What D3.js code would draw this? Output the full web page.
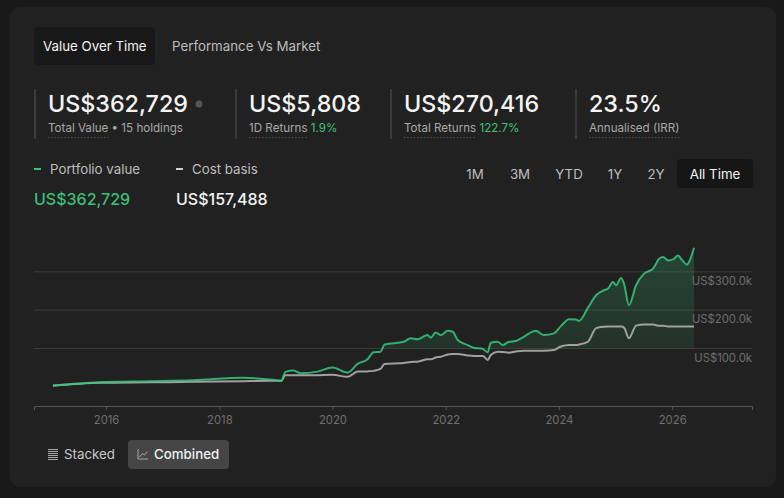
<!DOCTYPE html>
<html>
<head>
<meta charset="utf-8">
<script src="https://cdn.jsdelivr.net/npm/d3@7"></script>
<style>
  html, body { margin: 0; padding: 0; background: #191919; }
  svg { display: block; font-family: Inter, "Noto Sans", sans-serif; }
</style>
</head>
<body>
<svg class="chart"></svg>
<script>
// values (thousands of US$)
const dates = [
  "2015-01-23","2015-11-22","2016-10-12","2017-07-16","2018-06-04","2018-12-15","2019-02-05","2019-03-03",
  "2019-04-23","2019-06-08","2019-09-26","2020-01-01","2020-04-08","2020-06-11","2020-08-14","2020-09-22",
  "2020-11-06","2020-12-02","2021-04-05","2021-05-19","2021-07-03","2021-09-06","2021-09-26","2021-10-28",
  "2021-11-30","2022-01-14","2022-02-15","2022-03-19","2022-05-22","2022-07-01","2022-08-28","2022-09-29",
  "2022-10-18","2022-12-02","2023-01-04","2023-02-12","2023-03-29","2023-05-19","2023-08-05","2023-09-26",
  "2023-11-29","2024-01-14","2024-03-06","2024-04-20","2024-05-10","2024-07-07","2024-08-28","2024-10-18",
  "2024-11-13","2024-12-15","2025-01-04","2025-02-05","2025-02-24","2025-03-28","2025-05-13","2025-07-03",
  "2025-08-31","2025-10-09","2025-11-04","2025-12-06","2026-01-07","2026-02-08","2026-02-27","2026-04-07",
  "2026-04-19","2026-05-22"
];
const portfolioValues = [
  3.4, 12.2, 14.8, 17.4, 23.4, 18.2, 15.6, 39.0,
  42.3, 35.6, 39.7, 50.6, 37.1, 59.7, 71.9, 90.1,
  91.7, 110.4, 117.6, 126.5, 123.9, 135.0, 128.0, 142.0,
  135.0, 146.2, 143.6, 122.0, 109.0, 102.0, 98.7, 90.1,
  115.0, 117.6, 109.0, 117.6, 119.5, 130.6, 146.2, 135.0,
  139.5, 158.4, 176.6, 175.8, 172.2, 206.5, 238.9, 251.9,
  256.3, 273.5, 264.9, 283.9, 269.3, 213.0, 264.9, 295.3,
  308.3, 334.2, 338.4, 329.8, 332.4, 342.8, 334.2, 318.7,
  325.4, 362.729
];
const costBasis = [
  2.6, 10.4, 11.7, 13.0, 14.8, 15.6, 15.6, 29.9,
  29.9, 29.9, 30.4, 31.2, 26.0, 39.7, 40.3, 41.6,
  46.7, 59.7, 62.3, 64.9, 65.7, 71.9, 71.9, 76.6,
  78.7, 84.4, 85.7, 85.7, 81.8, 80.5, 80.5, 70.1,
  83.1, 91.7, 90.9, 89.1, 92.2, 94.3, 94.3, 94.3,
  96.1, 105.2, 109.1, 109.1, 110.4, 117.8, 153.2, 156.6,
  157.1, 157.1, 157.6, 157.1, 154.5, 126.5, 159.7, 162.3,
  162.3, 159.2, 159.2, 157.5, 157.5, 157.5, 157.5, 157.5,
  157.5, 157.488
];
const yTicks = [100, 200, 300];
const xTickYears = [2016, 2018, 2020, 2022, 2024, 2026];

const tabLabels = ["Value Over Time", "Performance Vs Market"];
const rangeLabels = ["1M", "3M", "YTD", "1Y", "2Y", "All Time"];
const stats = [
  {value: "US$362,729", label: "Total Value", extra: " \u2022 15 holdings", change: null},
  {value: "US$5,808", label: "1D Returns", extra: "", change: "1.9%"},
  {value: "US$270,416", label: "Total Returns", extra: "", change: "122.7%"},
  {value: "23.5%", label: "Annualised (IRR)", extra: "", change: null}
];

const canvas = {width: 784, height: 498};
const plot = {left: 34, right: 752, top: 233.5, bottom: 406};

const green = "#36c77b";
const grey = "#a0a0a0";

const svg = d3.select(".chart")
  .attr("width", canvas.width)
  .attr("height", canvas.height);

const x = d3.scaleTime()
  .domain([new Date(2014, 8, 23), new Date(2027, 4, 31)])
  .range([plot.left, plot.right]);

const y = d3.scaleLinear()
  .domain([-50, 400])
  .range([plot.bottom, plot.top]);

const parse = d3.timeParse("%Y-%m-%d");
const series = dates.map(function (d, i) {
  return {date: parse(d), value: portfolioValues[i], cost: costBasis[i]};
});

function drawCard() {
  svg.append("rect")
    .attr("x", 10).attr("y", 7)
    .attr("width", 766).attr("height", 480)
    .attr("rx", 10)
    .attr("fill", "#212121");
}

function drawTabs() {
  svg.append("rect")
    .attr("x", 34).attr("y", 27)
    .attr("width", 121).attr("height", 38)
    .attr("rx", 4)
    .attr("fill", "#181818");

  svg.selectAll(".tab")
    .data(tabLabels)
    .enter()
    .append("text")
    .attr("class", "tab")
    .attr("x", function (d, i) { return i === 0 ? 43 : 172; })
    .attr("y", 51)
    .attr("font-size", 13.3)
    .attr("fill", function (d, i) { return i === 0 ? "#f2f2f2" : "#bdbdbd"; })
    .text(function (d) { return d; });
}

function drawStats() {
  const cols = [35, 236, 391, 576];
  const g = svg.selectAll(".stat")
    .data(stats)
    .enter()
    .append("g")
    .attr("class", "stat")
    .attr("transform", function (d, i) { return "translate(" + cols[i] + ",0)"; });

  g.append("line")
    .attr("x1", 0).attr("x2", 0)
    .attr("y1", 89).attr("y2", 139)
    .attr("stroke", "#3a3a3a")
    .attr("stroke-width", 2);

  g.append("text")
    .attr("x", 13).attr("y", 111.5)
    .attr("font-size", 23.3)
    .attr("font-weight", 500)
    .attr("fill", "#f4f4f4")
    .text(function (d) { return d.value; });

  const sub = g.append("text")
    .attr("x", 13).attr("y", 132)
    .attr("font-size", 11.6)
    .attr("fill", "#a8a8a8");
  sub.append("tspan").attr("class", "lbl").text(function (d) { return d.label; });
  sub.append("tspan").text(function (d) { return d.extra; });
  sub.append("tspan")
    .attr("fill", "#3cc27a")
    .text(function (d) { return d.change ? " " + d.change : ""; });

  // dotted underline below the label part only
  g.each(function () {
    const grp = d3.select(this);
    const w = grp.select(".lbl").node().getComputedTextLength();
    grp.append("line")
      .attr("x1", 13).attr("x2", 13 + w)
      .attr("y1", 137.5).attr("y2", 137.5)
      .attr("stroke", "#555")
      .attr("stroke-width", 1.2)
      .attr("stroke-dasharray", "1.3,2");
  });

  svg.append("circle")
    .attr("cx", 199).attr("cy", 104).attr("r", 3.5)
    .attr("fill", "#555");
}

function drawLegend() {
  const items = [
    {name: "Portfolio value", value: "US$362,729", color: green, text: "#3dbf78", x: 34},
    {name: "Cost basis", value: "US$157,488", color: "#cfcfcf", text: "#f4f4f4", x: 176}
  ];
  const g = svg.selectAll(".legend")
    .data(items)
    .enter()
    .append("g")
    .attr("class", "legend");

  g.append("line")
    .attr("x1", function (d) { return d.x; })
    .attr("x2", function (d) { return d.x + 7; })
    .attr("y1", 169).attr("y2", 169)
    .attr("stroke", function (d) { return d.color; })
    .attr("stroke-width", 2);

  g.append("text")
    .attr("x", function (d) { return d.x + 16; })
    .attr("y", 174)
    .attr("font-size", 13.3)
    .attr("fill", "#bdbdbd")
    .text(function (d) { return d.name; });

  g.append("text")
    .attr("x", function (d) { return d.x; })
    .attr("y", 205)
    .attr("font-size", 16)
    .attr("font-weight", 500)
    .attr("fill", function (d) { return d.text; })
    .text(function (d) { return d.value; });
}

function drawRangeButtons() {
  const centers = [475, 520, 569, 615, 656, 715];
  svg.append("rect")
    .attr("x", 677).attr("y", 159)
    .attr("width", 76).attr("height", 29)
    .attr("rx", 4)
    .attr("fill", "#161616");

  svg.selectAll(".range")
    .data(rangeLabels)
    .enter()
    .append("text")
    .attr("class", "range")
    .attr("x", function (d, i) { return centers[i]; })
    .attr("y", 179)
    .attr("text-anchor", "middle")
    .attr("font-size", 13.3)
    .attr("fill", function (d, i) { return i === 5 ? "#f4f4f4" : "#bdbdbd"; })
    .text(function (d) { return d; });
}

function drawChart() {
  const defs = svg.append("defs");
  const grad = defs.append("linearGradient")
    .attr("id", "fillGrad")
    .attr("gradientUnits", "userSpaceOnUse")
    .attr("x1", 0).attr("x2", 0)
    .attr("y1", y(362.729)).attr("y2", y(100));
  grad.append("stop").attr("offset", "0%").attr("stop-color", green).attr("stop-opacity", 0.22);
  grad.append("stop").attr("offset", "100%").attr("stop-color", green).attr("stop-opacity", 0.1);

  // grid
  svg.selectAll(".grid")
    .data(yTicks)
    .enter()
    .append("line")
    .attr("class", "grid")
    .attr("x1", plot.left).attr("x2", plot.right)
    .attr("y1", function (d) { return y(d); })
    .attr("y2", function (d) { return y(d); })
    .attr("stroke", "#3b3b3b")
    .attr("stroke-width", 1);

  const area = d3.area()
    .x(function (d) { return x(d.date); })
    .y0(y(100))
    .y1(function (d) { return y(Math.max(d.value, 100)); })
    .curve(d3.curveMonotoneX);

  svg.append("path")
    .datum(series)
    .attr("d", area)
    .attr("fill", "url(#fillGrad)");

  const costLine = d3.line()
    .x(function (d) { return x(d.date); })
    .y(function (d) { return y(d.cost); })
    .curve(d3.curveMonotoneX);

  const valueLine = d3.line()
    .x(function (d) { return x(d.date); })
    .y(function (d) { return y(d.value); })
    .curve(d3.curveMonotoneX);

  svg.append("path")
    .datum(series)
    .attr("d", costLine)
    .attr("fill", "none")
    .attr("stroke", grey)
    .attr("stroke-width", 2);

  svg.append("path")
    .datum(series)
    .attr("d", valueLine)
    .attr("fill", "none")
    .attr("stroke", green)
    .attr("stroke-opacity", 0.85)
    .attr("stroke-width", 2);

  // y labels under their grid lines, right aligned
  svg.selectAll(".ylabel")
    .data(yTicks)
    .enter()
    .append("text")
    .attr("class", "ylabel")
    .attr("x", plot.right)
    .attr("y", function (d) { return y(d) + 13; })
    .attr("text-anchor", "end")
    .attr("font-size", 11.3)
    .attr("fill", "#6e6e6e")
    .text(function (d) { return "US$" + d3.format(".1f")(d) + "k"; });

  // x axis
  const xAxis = d3.axisBottom(x)
    .tickValues(xTickYears.map(function (yr) { return new Date(yr, 0, 1); }))
    .tickFormat(d3.timeFormat("%Y"))
    .tickSize(4)
    .tickPadding(6);

  const gx = svg.append("g")
    .attr("transform", "translate(0," + plot.bottom + ")")
    .call(xAxis);
  gx.select(".domain").attr("stroke", "#555");
  gx.selectAll(".tick line").attr("stroke", "#555");
  gx.selectAll(".tick text")
    .attr("fill", "#707070")
    .attr("font-size", 11.3)
    .attr("font-family", "Inter, sans-serif");
}

function drawModeButtons() {
  svg.append("rect")
    .attr("x", 128).attr("y", 440)
    .attr("width", 101).attr("height", 29)
    .attr("rx", 4)
    .attr("fill", "#454545");

  // stacked icon
  const st = svg.append("g").attr("stroke", "#a8a8a8").attr("stroke-width", 1);
  [449.5, 451.5, 453.5, 455.5, 457.5, 459.5].forEach(function (yy) {
    st.append("line").attr("x1", 48).attr("x2", 58).attr("y1", yy).attr("y2", yy);
  });

  // combined icon
  svg.append("path")
    .attr("d", "M138,449 V459 H148 M139.5,457 L142.5,453.5 L144.5,455 L147.5,451.5")
    .attr("fill", "none")
    .attr("stroke", "#a8a8a8")
    .attr("stroke-width", 1);

  svg.append("text")
    .attr("x", 64).attr("y", 459)
    .attr("font-size", 13.3)
    .attr("fill", "#c8c8c8")
    .text("Stacked");

  svg.append("text")
    .attr("x", 154).attr("y", 459)
    .attr("font-size", 13.3)
    .attr("font-weight", 500)
    .attr("fill", "#f2f2f2")
    .text("Combined");
}

drawCard();
drawTabs();
drawStats();
drawLegend();
drawRangeButtons();
drawChart();
drawModeButtons();
</script>
</body>
</html>
